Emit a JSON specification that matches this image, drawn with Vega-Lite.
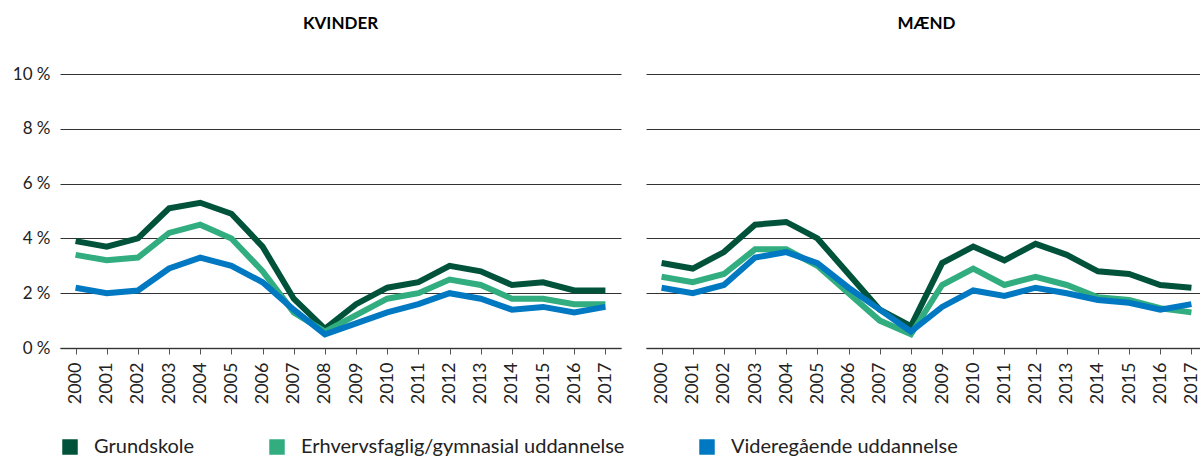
{
  "$schema": "https://vega.github.io/schema/vega-lite/v6.json",
  "padding": {"left": 12, "top": 15, "right": 0, "bottom": 0},
  "background": "white",
  "data": {"values": [
    {"koen":"KVINDER","udd":"Grundskole","aar":"2000","v":3.9},
    {"koen":"KVINDER","udd":"Grundskole","aar":"2001","v":3.7},
    {"koen":"KVINDER","udd":"Grundskole","aar":"2002","v":4.0},
    {"koen":"KVINDER","udd":"Grundskole","aar":"2003","v":5.1},
    {"koen":"KVINDER","udd":"Grundskole","aar":"2004","v":5.3},
    {"koen":"KVINDER","udd":"Grundskole","aar":"2005","v":4.9},
    {"koen":"KVINDER","udd":"Grundskole","aar":"2006","v":3.7},
    {"koen":"KVINDER","udd":"Grundskole","aar":"2007","v":1.8},
    {"koen":"KVINDER","udd":"Grundskole","aar":"2008","v":0.7},
    {"koen":"KVINDER","udd":"Grundskole","aar":"2009","v":1.6},
    {"koen":"KVINDER","udd":"Grundskole","aar":"2010","v":2.2},
    {"koen":"KVINDER","udd":"Grundskole","aar":"2011","v":2.4},
    {"koen":"KVINDER","udd":"Grundskole","aar":"2012","v":3.0},
    {"koen":"KVINDER","udd":"Grundskole","aar":"2013","v":2.8},
    {"koen":"KVINDER","udd":"Grundskole","aar":"2014","v":2.3},
    {"koen":"KVINDER","udd":"Grundskole","aar":"2015","v":2.4},
    {"koen":"KVINDER","udd":"Grundskole","aar":"2016","v":2.1},
    {"koen":"KVINDER","udd":"Grundskole","aar":"2017","v":2.1},
    {"koen":"KVINDER","udd":"Erhvervsfaglig/gymnasial uddannelse","aar":"2000","v":3.4},
    {"koen":"KVINDER","udd":"Erhvervsfaglig/gymnasial uddannelse","aar":"2001","v":3.2},
    {"koen":"KVINDER","udd":"Erhvervsfaglig/gymnasial uddannelse","aar":"2002","v":3.3},
    {"koen":"KVINDER","udd":"Erhvervsfaglig/gymnasial uddannelse","aar":"2003","v":4.2},
    {"koen":"KVINDER","udd":"Erhvervsfaglig/gymnasial uddannelse","aar":"2004","v":4.5},
    {"koen":"KVINDER","udd":"Erhvervsfaglig/gymnasial uddannelse","aar":"2005","v":4.0},
    {"koen":"KVINDER","udd":"Erhvervsfaglig/gymnasial uddannelse","aar":"2006","v":2.8},
    {"koen":"KVINDER","udd":"Erhvervsfaglig/gymnasial uddannelse","aar":"2007","v":1.3},
    {"koen":"KVINDER","udd":"Erhvervsfaglig/gymnasial uddannelse","aar":"2008","v":0.6},
    {"koen":"KVINDER","udd":"Erhvervsfaglig/gymnasial uddannelse","aar":"2009","v":1.2},
    {"koen":"KVINDER","udd":"Erhvervsfaglig/gymnasial uddannelse","aar":"2010","v":1.8},
    {"koen":"KVINDER","udd":"Erhvervsfaglig/gymnasial uddannelse","aar":"2011","v":2.0},
    {"koen":"KVINDER","udd":"Erhvervsfaglig/gymnasial uddannelse","aar":"2012","v":2.5},
    {"koen":"KVINDER","udd":"Erhvervsfaglig/gymnasial uddannelse","aar":"2013","v":2.3},
    {"koen":"KVINDER","udd":"Erhvervsfaglig/gymnasial uddannelse","aar":"2014","v":1.8},
    {"koen":"KVINDER","udd":"Erhvervsfaglig/gymnasial uddannelse","aar":"2015","v":1.8},
    {"koen":"KVINDER","udd":"Erhvervsfaglig/gymnasial uddannelse","aar":"2016","v":1.6},
    {"koen":"KVINDER","udd":"Erhvervsfaglig/gymnasial uddannelse","aar":"2017","v":1.6},
    {"koen":"KVINDER","udd":"Videregående uddannelse","aar":"2000","v":2.2},
    {"koen":"KVINDER","udd":"Videregående uddannelse","aar":"2001","v":2.0},
    {"koen":"KVINDER","udd":"Videregående uddannelse","aar":"2002","v":2.1},
    {"koen":"KVINDER","udd":"Videregående uddannelse","aar":"2003","v":2.9},
    {"koen":"KVINDER","udd":"Videregående uddannelse","aar":"2004","v":3.3},
    {"koen":"KVINDER","udd":"Videregående uddannelse","aar":"2005","v":3.0},
    {"koen":"KVINDER","udd":"Videregående uddannelse","aar":"2006","v":2.4},
    {"koen":"KVINDER","udd":"Videregående uddannelse","aar":"2007","v":1.4},
    {"koen":"KVINDER","udd":"Videregående uddannelse","aar":"2008","v":0.5},
    {"koen":"KVINDER","udd":"Videregående uddannelse","aar":"2009","v":0.9},
    {"koen":"KVINDER","udd":"Videregående uddannelse","aar":"2010","v":1.3},
    {"koen":"KVINDER","udd":"Videregående uddannelse","aar":"2011","v":1.6},
    {"koen":"KVINDER","udd":"Videregående uddannelse","aar":"2012","v":2.0},
    {"koen":"KVINDER","udd":"Videregående uddannelse","aar":"2013","v":1.8},
    {"koen":"KVINDER","udd":"Videregående uddannelse","aar":"2014","v":1.4},
    {"koen":"KVINDER","udd":"Videregående uddannelse","aar":"2015","v":1.5},
    {"koen":"KVINDER","udd":"Videregående uddannelse","aar":"2016","v":1.3},
    {"koen":"KVINDER","udd":"Videregående uddannelse","aar":"2017","v":1.5},
    {"koen":"MÆND","udd":"Grundskole","aar":"2000","v":3.1},
    {"koen":"MÆND","udd":"Grundskole","aar":"2001","v":2.9},
    {"koen":"MÆND","udd":"Grundskole","aar":"2002","v":3.5},
    {"koen":"MÆND","udd":"Grundskole","aar":"2003","v":4.5},
    {"koen":"MÆND","udd":"Grundskole","aar":"2004","v":4.6},
    {"koen":"MÆND","udd":"Grundskole","aar":"2005","v":4.0},
    {"koen":"MÆND","udd":"Grundskole","aar":"2006","v":2.7},
    {"koen":"MÆND","udd":"Grundskole","aar":"2007","v":1.4},
    {"koen":"MÆND","udd":"Grundskole","aar":"2008","v":0.8},
    {"koen":"MÆND","udd":"Grundskole","aar":"2009","v":3.1},
    {"koen":"MÆND","udd":"Grundskole","aar":"2010","v":3.7},
    {"koen":"MÆND","udd":"Grundskole","aar":"2011","v":3.2},
    {"koen":"MÆND","udd":"Grundskole","aar":"2012","v":3.8},
    {"koen":"MÆND","udd":"Grundskole","aar":"2013","v":3.4},
    {"koen":"MÆND","udd":"Grundskole","aar":"2014","v":2.8},
    {"koen":"MÆND","udd":"Grundskole","aar":"2015","v":2.7},
    {"koen":"MÆND","udd":"Grundskole","aar":"2016","v":2.3},
    {"koen":"MÆND","udd":"Grundskole","aar":"2017","v":2.2},
    {"koen":"MÆND","udd":"Erhvervsfaglig/gymnasial uddannelse","aar":"2000","v":2.6},
    {"koen":"MÆND","udd":"Erhvervsfaglig/gymnasial uddannelse","aar":"2001","v":2.4},
    {"koen":"MÆND","udd":"Erhvervsfaglig/gymnasial uddannelse","aar":"2002","v":2.7},
    {"koen":"MÆND","udd":"Erhvervsfaglig/gymnasial uddannelse","aar":"2003","v":3.6},
    {"koen":"MÆND","udd":"Erhvervsfaglig/gymnasial uddannelse","aar":"2004","v":3.6},
    {"koen":"MÆND","udd":"Erhvervsfaglig/gymnasial uddannelse","aar":"2005","v":3.0},
    {"koen":"MÆND","udd":"Erhvervsfaglig/gymnasial uddannelse","aar":"2006","v":2.0},
    {"koen":"MÆND","udd":"Erhvervsfaglig/gymnasial uddannelse","aar":"2007","v":1.0},
    {"koen":"MÆND","udd":"Erhvervsfaglig/gymnasial uddannelse","aar":"2008","v":0.5},
    {"koen":"MÆND","udd":"Erhvervsfaglig/gymnasial uddannelse","aar":"2009","v":2.3},
    {"koen":"MÆND","udd":"Erhvervsfaglig/gymnasial uddannelse","aar":"2010","v":2.9},
    {"koen":"MÆND","udd":"Erhvervsfaglig/gymnasial uddannelse","aar":"2011","v":2.3},
    {"koen":"MÆND","udd":"Erhvervsfaglig/gymnasial uddannelse","aar":"2012","v":2.6},
    {"koen":"MÆND","udd":"Erhvervsfaglig/gymnasial uddannelse","aar":"2013","v":2.3},
    {"koen":"MÆND","udd":"Erhvervsfaglig/gymnasial uddannelse","aar":"2014","v":1.85},
    {"koen":"MÆND","udd":"Erhvervsfaglig/gymnasial uddannelse","aar":"2015","v":1.75},
    {"koen":"MÆND","udd":"Erhvervsfaglig/gymnasial uddannelse","aar":"2016","v":1.45},
    {"koen":"MÆND","udd":"Erhvervsfaglig/gymnasial uddannelse","aar":"2017","v":1.3},
    {"koen":"MÆND","udd":"Videregående uddannelse","aar":"2000","v":2.2},
    {"koen":"MÆND","udd":"Videregående uddannelse","aar":"2001","v":2.0},
    {"koen":"MÆND","udd":"Videregående uddannelse","aar":"2002","v":2.3},
    {"koen":"MÆND","udd":"Videregående uddannelse","aar":"2003","v":3.3},
    {"koen":"MÆND","udd":"Videregående uddannelse","aar":"2004","v":3.5},
    {"koen":"MÆND","udd":"Videregående uddannelse","aar":"2005","v":3.1},
    {"koen":"MÆND","udd":"Videregående uddannelse","aar":"2006","v":2.2},
    {"koen":"MÆND","udd":"Videregående uddannelse","aar":"2007","v":1.4},
    {"koen":"MÆND","udd":"Videregående uddannelse","aar":"2008","v":0.6},
    {"koen":"MÆND","udd":"Videregående uddannelse","aar":"2009","v":1.5},
    {"koen":"MÆND","udd":"Videregående uddannelse","aar":"2010","v":2.1},
    {"koen":"MÆND","udd":"Videregående uddannelse","aar":"2011","v":1.9},
    {"koen":"MÆND","udd":"Videregående uddannelse","aar":"2012","v":2.2},
    {"koen":"MÆND","udd":"Videregående uddannelse","aar":"2013","v":2.0},
    {"koen":"MÆND","udd":"Videregående uddannelse","aar":"2014","v":1.75},
    {"koen":"MÆND","udd":"Videregående uddannelse","aar":"2015","v":1.65},
    {"koen":"MÆND","udd":"Videregående uddannelse","aar":"2016","v":1.4},
    {"koen":"MÆND","udd":"Videregående uddannelse","aar":"2017","v":1.6}
  ]},
  "facet": {
    "column": {
      "field": "koen",
      "type": "nominal",
      "sort": ["KVINDER", "MÆND"],
      "header": {
        "title": null,
        "labelFont": "Lato",
        "labelFontSize": 17,
        "labelFontWeight": "bold",
        "labelColor": "#000000",
        "labelPadding": 41
      }
    }
  },
  "spacing": 25,
  "spec": {
    "width": 561,
    "height": 274,
    "mark": {"type": "line", "strokeWidth": 6, "strokeJoin": "miter", "strokeCap": "butt"},
    "encoding": {
      "x": {
        "field": "aar",
        "type": "ordinal",
        "scale": {"type": "point", "padding": 0.5},
        "axis": {
          "title": null,
          "labelAngle": -90,
          "labelFont": "Lato",
          "labelFontSize": 18,
          "labelColor": "#222222",
          "labelPadding": 8,
          "tickSize": 6,
          "tickColor": "#555555",
          "domainColor": "#666666",
          "domainWidth": 1.5,
          "grid": false
        }
      },
      "y": {
        "field": "v",
        "type": "quantitative",
        "scale": {"domain": [0, 10], "nice": false},
        "axis": {
          "title": null,
          "values": [0, 2, 4, 6, 8, 10],
          "labelExpr": "datum.value + ' %'",
          "labelFont": "Lato",
          "labelFontSize": 17,
          "labelColor": "#222222",
          "labelPadding": 10,
          "ticks": false,
          "domain": false,
          "grid": true,
          "gridColor": "#333333",
          "gridWidth": 1.2,
          "gridOpacity": 1
        }
      },
      "color": {
        "field": "udd",
        "type": "nominal",
        "sort": ["Grundskole", "Erhvervsfaglig/gymnasial uddannelse", "Videregående uddannelse"],
        "scale": {
          "domain": ["Grundskole", "Erhvervsfaglig/gymnasial uddannelse", "Videregående uddannelse"],
          "range": ["#00533a", "#31ad7f", "#0079c2"]
        },
        "legend": {
          "title": null,
          "orient": "bottom",
          "direction": "horizontal",
          "symbolType": "square",
          "symbolSize": 240,
          "symbolStrokeWidth": 0,
          "symbolOpacity": 1,
          "labelFont": "Lato",
          "labelFontSize": 20,
          "labelColor": "#222222",
          "labelOffset": 14,
          "labelLimit": 500,
          "columnPadding": 72,
          "offset": 33,
          "encode": {
            "symbols": {
              "update": {
                "fill": {"scale": "color", "field": "value"},
                "fillOpacity": {"value": 1}
              }
            }
          }
        }
      }
    }
  },
  "config": {"view": {"stroke": null}}
}
